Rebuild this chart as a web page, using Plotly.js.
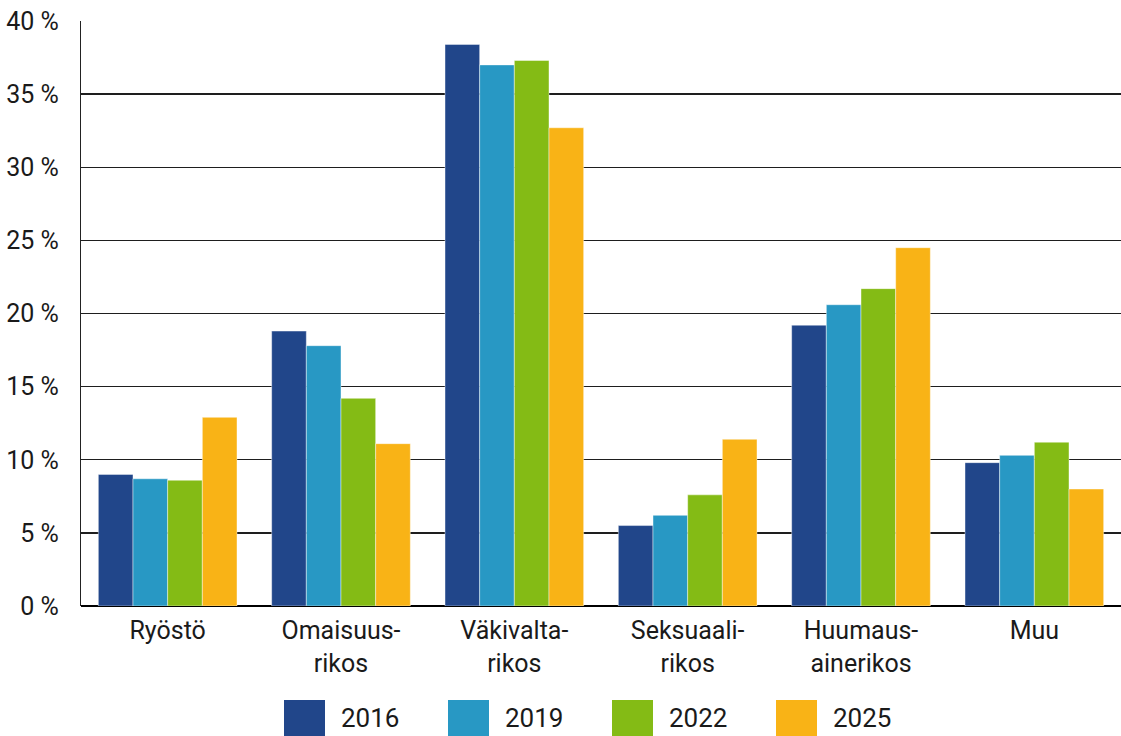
<!DOCTYPE html>
<html>
<head>
<meta charset="utf-8">
<script src="https://cdn.plot.ly/plotly-3.0.1.min.js"></script>
<style>
  html, body { margin: 0; padding: 0; background: #fff; }
  #chart { width: 1121px; height: 736px; }
</style>
</head>
<body>
<div id="chart"></div>
<script>
// ---- data ----
var categories = ["Ryöstö", "Omaisuus-<br>rikos", "Väkivalta-<br>rikos", "Seksuaali-<br>rikos", "Huumaus-<br>ainerikos", "Muu"];
var years = ["2016", "2019", "2022", "2025"];
var values2016 = [9.0, 18.8, 38.4, 5.5, 19.2, 9.8];
var values2019 = [8.7, 17.8, 37.0, 6.2, 20.6, 10.3];
var values2022 = [8.6, 14.2, 37.3, 7.6, 21.7, 11.2];
var values2025 = [12.9, 11.1, 32.7, 11.4, 24.5, 8.0];
var yTickValues = [0, 5, 10, 15, 20, 25, 30, 35, 40];

// ---- style ----
var colors = ["#21468a", "#2898c4", "#84bb15", "#f9b316"];
var fontFamily = "Roboto, 'Noto Sans', 'DejaVu Sans', sans-serif";
var textColor = "#1a1a1a";

var W = 1121, H = 736;
var M = { l: 81, r: 0, t: 21, b: 130 };
var plotW = W - M.l - M.r, plotH = H - M.t - M.b;
function px2paperX(px) { return (px - M.l) / plotW; }
function px2paperY(py) { return (H - M.b - py) / plotH; }

var series = [values2016, values2019, values2022, values2025];
var traces = series.map(function (vals, i) {
  return {
    type: "bar",
    name: years[i],
    x: categories,
    y: vals,
    marker: { color: colors[i], line: { width: 0.8, color: "rgba(255,255,255,0.55)" } },
    hoverinfo: "x+y+name",
    showlegend: false
  };
});

// custom legend (big square swatches) built from the years array
var legendLeft = 284, legendStep = 164, swatchW = 41, swatchTop = 700, swatchBottom = 741, textGap = 14;
var shapes = [], annotations = [];
years.forEach(function (yr, i) {
  var x0 = legendLeft + i * legendStep;
  shapes.push({
    type: "rect", xref: "paper", yref: "paper",
    x0: px2paperX(x0), x1: px2paperX(x0 + swatchW),
    y0: px2paperY(swatchBottom), y1: px2paperY(swatchTop),
    fillcolor: colors[i], line: { width: 0 }
  });
  annotations.push({
    xref: "paper", yref: "paper",
    x: px2paperX(x0 + swatchW + textGap), y: px2paperY(718),
    xanchor: "left", yanchor: "middle",
    text: yr, showarrow: false,
    font: { family: fontFamily, size: 26, color: textColor }
  });
});

var layout = {
  width: W, height: H,
  margin: M,
  paper_bgcolor: "#fff",
  plot_bgcolor: "#fff",
  barmode: "group",
  bargap: 0.2,
  bargroupgap: 0,
  showlegend: false,
  font: { family: fontFamily, size: 25, color: textColor },
  xaxis: {
    type: "category",
    tickfont: { family: fontFamily, size: 25, color: textColor },
    ticks: "",
    ticklabelstandoff: 7,
    showgrid: false,
    showline: false,
    zeroline: false,
    fixedrange: true
  },
  yaxis: {
    range: [0, 40],
    tickvals: yTickValues,
    ticktext: yTickValues.map(function (v) { return v + " %"; }),
    tickfont: { family: fontFamily, size: 25, color: textColor },
    ticks: "",
    ticklabelstandoff: 16,
    showgrid: true,
    gridcolor: "#1e1e1e",
    gridwidth: 1.3,
    zeroline: true,
    zerolinecolor: "#000",
    zerolinewidth: 2.6,
    showline: true,
    linecolor: "#222",
    linewidth: 1.2,
    fixedrange: true
  },
  shapes: shapes,
  annotations: annotations
};

Plotly.newPlot("chart", traces, layout, { displayModeBar: false, staticPlot: true });
</script>
</body>
</html>
